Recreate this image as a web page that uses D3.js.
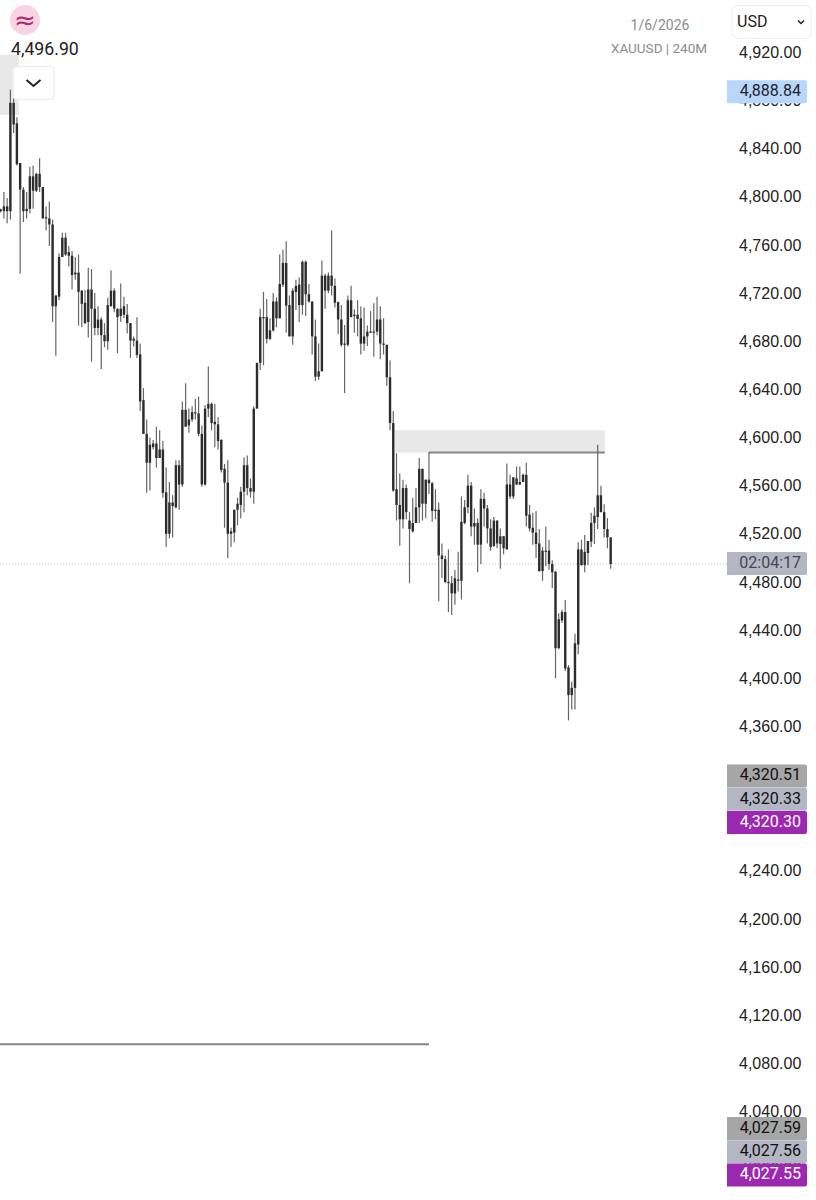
<!DOCTYPE html>
<html>
<head>
<meta charset="utf-8">
<script src="https://cdn.jsdelivr.net/npm/d3@7"></script>
<style>
  html, body { margin: 0; padding: 0; background: #fff; }
  svg { display: block; font-family: Roboto, sans-serif; }
  .tick text { font-size: 16px; fill: #222; }
</style>
</head>
<body>
<svg id="chart" width="816" height="1200"></svg>
<script>
// candle values, in USD. every candle is drawn black so
// only the top and bottom of the body can be seen, not which way it moved
var highs = [
  4790,4804,4799,4889,4882,4866,4828,4808,4804,4825,
  4826,4820,4832,4808,4792,4796,4781,4718,4753,4770,
  4770,4759,4755,4750,4752,4722.5,4722.5,4741,4740,4720,
  4709,4700,4695,4716,4739,4724,4707,4728,4717,4711,
  4695,4684,4700,4678,4641,4615,4600,4598,4609,4606,
  4597,4575,4563,4552,4581,4581,4630,4645,4624,4626,
  4632,4634,4610,4627,4659,4629,4628,4617,4598.5,4578,
  4581,4525,4540,4550,4559,4583.5,4585,4566,4626,4662,
  4707,4721,4715,4699,4720,4716.5,4752,4756,4763,4718,
  4724,4731,4733,4747,4747,4727.5,4713,4698,4678,4747,
  4736,4737,4772,4732,4713,4710,4693.5,4718,4726,4706.5,
  4714,4709,4708,4693,4705,4711.5,4717,4709,4699,4677,
  4664,4622,4587,4570,4565,4561,4538,4550,4558,4583,
  4574,4565,4588,4563,4557,4546,4512,4502,4507,4485,
  4490,4505,4551,4548,4569,4563,4541,4533,4557,4554,
  4544,4532,4534,4531,4524.5,4518,4578.5,4569,4567,4576,
  4576,4570,4579,4544,4537.5,4539,4524,4509,4526,4515,
  4498,4489,4454,4457,4465,4411,4397,4437,4513,4515,
  4519,4514,4537.5,4542,4594,4560,4544.5,4533,4517
];
var bodyTops = [
  4789.5,4792,4792,4878,4878,4861,4828,4806,4790,4817,
  4817,4819,4819,4808,4783,4782,4777,4718,4750,4766,
  4766,4754,4751,4737,4737,4722,4712,4723,4723,4707,
  4698,4698,4685,4710,4722,4722,4707,4707,4709,4702,
  4695,4682,4680.5,4669,4631,4603,4594,4595,4595,4590,
  4590,4554.5,4546,4546,4577,4577,4623,4623,4615,4621,
  4621,4620,4603,4624,4628,4628,4613,4611,4598,4574,
  4562.5,4522,4540,4545,4555,4577,4577,4558,4624,4662,
  4700,4700,4700,4689,4713,4713,4727.5,4745,4745,4710,
  4722,4726,4727,4746,4746,4719,4713,4684,4655,4734.5,
  4734.5,4734.5,4734.5,4726,4712.5,4698,4678,4714,4714,4702,
  4702,4699,4684,4688,4688,4688,4698,4698,4678,4677,
  4650,4612,4557,4544,4558,4558,4531,4529,4542,4574,
  4574,4565,4565,4562,4540,4540,4502,4499,4480,4479,
  4483,4482,4530,4542,4560,4560,4529,4529,4549,4549,
  4541,4524.5,4531,4531,4518,4518,4561,4561,4567,4566,
  4563,4569,4569,4536,4525,4521,4512,4506,4506,4506,
  4495,4488.5,4449,4455,4455,4409,4392,4429,4507,4507,
  4505,4514,4529,4535,4552,4552,4538,4524,4517
];
var bodyBottoms = [
  4788,4788,4788,4788,4860,4827,4806,4788,4788,4790,
  4805,4805,4808,4782,4782,4777,4709,4709,4717,4750,
  4752,4751,4735,4735.5,4721,4711,4695,4696,4707,4691,
  4691,4685,4680,4680,4709,4707,4700,4701,4702,4695,
  4680.5,4680.5,4668.6,4630,4603,4579,4579,4592,4583,4583,
  4554,4520,4520,4543,4542,4561,4561,4609,4610,4615,
  4620,4603,4561,4561,4624,4612,4611,4597,4573,4562.5,
  4520,4520,4521,4540,4544,4555,4558,4555,4555,4624,
  4662,4700,4682,4682,4689,4699,4699,4727,4709.5,4684,
  4684,4721,4710,4710,4719,4713,4684,4650.5,4650.5,4655,
  4722,4722,4726,4712,4698,4677,4677,4677,4700,4701,
  4698.5,4678,4678,4684,4687,4687,4688,4678,4677,4650,
  4612,4556,4544,4532,4532,4538,4524,4522,4529,4542,
  4545,4545,4562,4539,4539,4502,4499,4480,4479,4470.5,
  4470.5,4481,4481,4529,4542,4526,4526,4511,4511,4541,
  4524.5,4509,4510,4512,4511.5,4508,4507,4551,4551,4561,
  4561,4563,4535,4524.5,4521,4511.5,4489,4489,4505,4495,
  4488,4425,4425,4448,4408,4386,4386,4392,4428,4494,
  4494,4504,4513.5,4529,4534,4538,4524,4517,4495
];
var lows = [
  4787,4782,4778,4781,4853,4826,4736,4779,4782,4786,
  4790,4804,4804,4782,4772,4759,4696,4668,4714,4750,
  4751,4742,4723,4731,4693,4691.5,4694,4683,4663,4685,
  4685,4657,4675,4673,4709,4704,4670,4696,4699,4686.5,
  4666,4675.5,4666,4622,4603,4554,4556,4590,4575,4583,
  4550,4509,4516,4517,4541,4540,4559,4609,4604,4613,
  4615,4601,4559,4560,4617,4606,4592,4590,4571,4525,
  4500,4509,4513,4527,4533,4538,4552,4550,4545,4624,
  4656,4660,4678,4681,4688,4691.5,4699,4725,4687,4684,
  4677,4706,4696,4702,4701,4712,4669,4647,4648,4655,
  4707,4720,4718,4708,4686,4675.5,4637,4675.5,4700,4687,
  4684,4669,4672,4676,4687,4667,4685,4665,4669,4643,
  4606,4555,4531,4510,4524.5,4532,4479,4521,4529,4529,
  4531,4533,4553,4530,4532,4464,4483.5,4479,4455,4452.5,
  4461,4472,4465.5,4528,4537,4518,4511,4488,4495,4526,
  4512,4506,4509,4508,4491,4503,4507,4549,4549,4560.5,
  4560.5,4563,4526,4522,4511,4500,4488.5,4481,4493,4490,
  4475,4400,4424,4446,4406,4365,4374,4374,4420,4493.5,
  4488,4494,4509,4511.5,4524,4538,4517,4508,4491
];
var tickPrices = [4920,4880,4840,4800,4760,4720,4680,4640,4600,4560,4520,4480,4440,4400,4360,4320,4280,4240,4200,4160,4120,4080,4040,4000];

// price tags on the right, stacked where they would overlap
var tagTexts = ["4,888.84","02:04:17","4,320.51","4,320.33","4,320.30","4,027.59","4,027.56","4,027.55"];
var tagPrices = [4888.84,4496.90,4320.51,4320.33,4320.30,4027.59,4027.56,4027.55];
var tagStack = [0,0,0,1,2,0,1,2];
var tagFills = ["#b9d7fa","#b4b6c3","#a6a6a6","#b4b6c3","#9c27b0","#a6a6a6","#b4b6c3","#9c27b0"];
var tagInk = ["#1c2430","#444650","#111","#111","#fff","#111","#111","#fff"];

// the drawn zones, in candle numbers and prices
var topZone = {from:-1,to:5.6,top:4918,bottom:4868}
var boxZone = {from:121.6,to:186.2,top:4606,bottom:4587.5}
var boxLine = {from:132,to:186.2,price:4587.5}
var lowLine = {from:-1,to:132,price:4096}

var xScale = d3.scaleLinear().domain([0,highs.length-1]).range([0.67,610.67])
var yScale = d3.scaleLinear().domain([4920,4040]).range([52.3,1111.6])

var svg = d3.select("#chart")

var drawZones = function()
{
    var zones = svg.append("g").classed("zones",true)

    zones.selectAll("rect")
        .data([topZone,boxZone])
        .enter()
        .append("rect")
        .attr("x",function(z){return xScale(z.from)})
        .attr("width",function(z){return xScale(z.to)-xScale(z.from)})
        .attr("y",function(z){return yScale(z.top)})
        .attr("height",function(z){return yScale(z.bottom)-yScale(z.top)})
        .attr("fill","#e8e8e8")

    zones.selectAll("line")
        .data([boxLine,lowLine])
        .enter()
        .append("line")
        .attr("x1",function(l){return xScale(l.from)})
        .attr("x2",function(l){return xScale(l.to)})
        .attr("y1",function(l){return yScale(l.price)})
        .attr("y2",function(l){return yScale(l.price)})
        .attr("stroke","#858585")
        .attr("stroke-width",2)
}

var drawCurrentLine = function()
{
    // the dotted line sits at the last body bottom
    var y = yScale(bodyBottoms[bodyBottoms.length-1])
    svg.append("line")
        .attr("x1",0)
        .attr("x2",727)
        .attr("y1",y)
        .attr("y2",y)
        .attr("stroke","#c4c4c4")
        .attr("stroke-dasharray","1,2")
}

var drawCandles = function()
{
    var candles = svg.append("g")
        .classed("candles",true)
        .selectAll("g")
        .data(d3.range(highs.length))
        .enter()
        .append("g")

    candles.append("line")
        .attr("x1",function(i){return xScale(i)})
        .attr("x2",function(i){return xScale(i)})
        .attr("y1",function(i){return yScale(highs[i])})
        .attr("y2",function(i){return yScale(lows[i])})
        .attr("stroke","#666")
        .attr("stroke-width",1.2)

    candles.append("rect")
        .attr("x",function(i){return xScale(i)-1.2})
        .attr("width",2.4)
        .attr("y",function(i){return yScale(bodyTops[i])})
        .attr("height",function(i){return Math.max(1.2,yScale(bodyBottoms[i])-yScale(bodyTops[i]))})
        .attr("fill","#2c2c2c")
}

var drawAxis = function()
{
    var axis = d3.axisRight(yScale)
        .tickValues(tickPrices)
        .tickSize(0)
        .tickPadding(0)
        .tickFormat(d3.format(",.2f"))

    svg.append("g")
        .attr("transform","translate(739,0)")
        .call(axis)
        .call(function(g){g.select(".domain").remove()})
}

var drawTags = function()
{
    var tags = svg.append("g")
        .classed("tags",true)
        .selectAll("g")
        .data(tagTexts)
        .enter()
        .append("g")
        .attr("transform",function(t,i)
        {
            // 23 is the height of one tag, the price gives the first one in a stack
            return "translate(727,"+(yScale(tagPrices[i])-9.5+tagStack[i]*23.2)+")"
        })

    tags.append("path")
        .attr("d","M0,0H78a2,2 0 0 1 2,2V21a2,2 0 0 1 -2,2H0Z")
        .attr("fill",function(t,i){return tagFills[i]})

    tags.append("text")
        .text(function(t){return t})
        .attr("x",74)
        .attr("y",16)
        .attr("text-anchor","end")
        .attr("font-size",16)
        .attr("fill",function(t,i){return tagInk[i]})
}

var drawHeader = function()
{
    var head = svg.append("g").classed("header",true)

    head.append("circle")
        .attr("cx",25)
        .attr("cy",20)
        .attr("r",15)
        .attr("fill","#f8d3e4")
    head.append("text")
        .text("≈")
        .attr("x",25)
        .attr("y",29)
        .attr("text-anchor","middle")
        .attr("font-family","DejaVu Sans")
        .attr("font-size",26)
        .attr("fill","#b02a68")

    head.append("text")
        .text("4,496.90")
        .attr("x",11)
        .attr("y",55)
        .attr("font-size",17.7)
        .attr("fill","#222")

    head.append("rect")
        .attr("x",13)
        .attr("y",66.5)
        .attr("width",41)
        .attr("height",33)
        .attr("rx",4)
        .attr("fill","#fff")
        .attr("stroke","#eeeeee")
        .attr("stroke-width",1.5)
    head.append("path")
        .attr("d","M26.5,80 L33.5,86 L40.5,80")
        .attr("fill","none")
        .attr("stroke","#222")
        .attr("stroke-width",2)

    head.append("text")
        .text("1/6/2026")
        .attr("x",660)
        .attr("y",30)
        .attr("text-anchor","middle")
        .attr("font-size",14)
        .attr("fill","#8c8c8c")
    head.append("text")
        .text("XAUUSD | 240M")
        .attr("x",659)
        .attr("y",53)
        .attr("text-anchor","middle")
        .attr("font-size",13.5)
        .attr("fill","#8c8c8c")

    head.append("rect")
        .attr("x",732)
        .attr("y",5.5)
        .attr("width",79)
        .attr("height",33)
        .attr("rx",6)
        .attr("fill","#fff")
        .attr("stroke","#eeeeee")
    head.append("text")
        .text("USD")
        .attr("x",737)
        .attr("y",27)
        .attr("font-size",16)
        .attr("fill","#222")
    head.append("path")
        .attr("d","M798,20.5 L801,23.5 L804,20.5")
        .attr("fill","none")
        .attr("stroke","#222")
        .attr("stroke-width",1.5)
}

drawZones()
drawCurrentLine()
drawCandles()
drawAxis()
drawTags()
drawHeader()
</script>
</body>
</html>
